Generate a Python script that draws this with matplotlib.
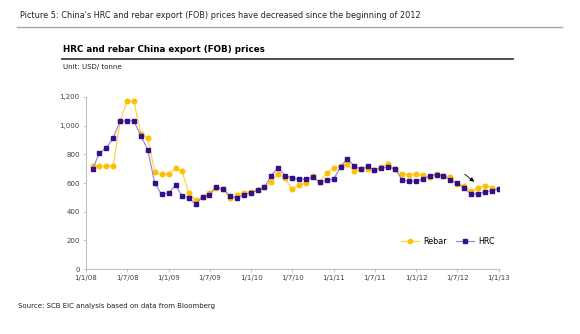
import matplotlib
matplotlib.use("Agg")
import matplotlib.pyplot as plt
import pandas as pd

''' Monthly export prices, USD/tonne, Jan 2008 - Dec 2012 (month end)'''
months = pd.date_range('2008-01-31', periods=60, freq='ME')

rebar = [721, 718, 718, 718, 1030, 1170, 1170, 940, 914, 680,
         661, 661, 703, 684, 530, 479, 502, 533, 568, 556,
         493, 519, 533, 540, 553, 570, 610, 665, 633, 558,
         589, 598, 647, 605, 668, 705, 717, 733, 686, 696,
         700, 691, 714, 733, 696, 663, 659, 661, 654, 642,
         661, 651, 642, 595, 577, 544, 563, 582, 568, 558]

hrc = [700, 809, 844, 914, 1033, 1033, 1033, 928, 833, 600,
       521, 530, 584, 512, 495, 451, 505, 518, 570, 556,
       507, 497, 519, 533, 549, 570, 651, 707, 650, 637,
       626, 626, 642, 605, 619, 626, 710, 770, 721, 696,
       719, 691, 705, 712, 697, 621, 612, 612, 628, 649,
       659, 651, 621, 598, 565, 521, 526, 537, 547, 558]

xtick_dates = pd.to_datetime(['2008-01-01', '2008-07-01', '2009-01-01', '2009-07-01',
                              '2010-01-01', '2010-07-01', '2011-01-01', '2011-07-01',
                              '2012-01-01', '2012-07-01', '2013-01-01'])
xtick_labels = ['1/1/08', '1/7/08', '1/1/09', '1/7/09', '1/1/10', '1/7/10',
                '1/1/11', '1/7/11', '1/1/12', '1/7/12', '1/1/13']
ytick_vals = [0, 200, 400, 600, 800, 1000, 1200]
ytick_labels = ['0', '200', '400', '600', '800', '1,000', '1,200']

W, H = 580, 334
plt.rcParams['font.family'] = ['DejaVu Sans']
fig = plt.figure(figsize=(W / 100, H / 100), dpi=100)

# plot area in pixel terms: left 86, right 499, top 97, bottom 269
ax = fig.add_axes([86 / W, (H - 269) / H, 413 / W, 172 / H])

ax.plot(months, rebar, color='#FFD24D', lw=0.9, marker='o', ms=3.3,
        mfc='#FFC000', mec='#FFC000', label='Rebar', zorder=3)
ax.plot(months, hrc, color='#9C8AD0', lw=0.9, marker='s', ms=3.3,
        mfc='#33108A', mec='#33108A', label='HRC', zorder=4)

ax.set_xlim(pd.Timestamp('2008-01-01'), pd.Timestamp('2013-01-01'))
ax.set_ylim(0, 1200)
ax.set_xticks(xtick_dates)
ax.set_xticklabels(xtick_labels)
ax.set_yticks(ytick_vals)
ax.set_yticklabels(ytick_labels)
ax.tick_params(labelsize=5, colors='#BFBFBF', labelcolor='#404040', length=2.5, width=0.6, pad=2)
for s in ['top', 'right']:
    ax.spines[s].set_visible(False)
for s in ['left', 'bottom']:
    ax.spines[s].set_color('#BFBFBF')
    ax.spines[s].set_linewidth(0.8)

# arrow pointing at the latest decline
ax.annotate('', xy=(pd.Timestamp('2012-09-23'), 597), xytext=(pd.Timestamp('2012-07-24'), 673),
            arrowprops=dict(arrowstyle='-|>', color='black', lw=0.6, mutation_scale=6))

ax.legend(loc='center', bbox_to_anchor=(448 / W, (H - 241) / H), bbox_transform=fig.transFigure,
          ncol=2, frameon=False, fontsize=5.8, handlelength=2.2, columnspacing=1.2,
          handletextpad=0.5, markerscale=0.9)

''' Headings and source text'''
fig.text(20 / W, 1 - 16 / H, "Picture 5: China's HRC and rebar export (FOB) prices have decreased since the beginning of 2012",
         fontsize=5.9, color='#222222', va='center', ha='left')
fig.add_artist(plt.Line2D([17 / W, 562 / W], [1 - 27 / H, 1 - 27 / H], color='#A6A6A6', lw=1.0))
fig.text(63 / W, 1 - 50 / H, 'HRC and rebar China export (FOB) prices', fontsize=6.3,
         fontweight='bold', color='black', va='center', ha='left')
fig.add_artist(plt.Line2D([62 / W, 513 / W], [1 - 59 / H, 1 - 59 / H], color='#404040', lw=1.3))
fig.text(63 / W, 1 - 67 / H, 'Unit: USD/ tonne', fontsize=5, color='#222222', va='center', ha='left')
fig.text(18 / W, 1 - 306 / H, 'Source: SCB EIC analysis based on data from Bloomberg', fontsize=5,
         color='#222222', va='center', ha='left')

fig.savefig('out.png', dpi=100)
